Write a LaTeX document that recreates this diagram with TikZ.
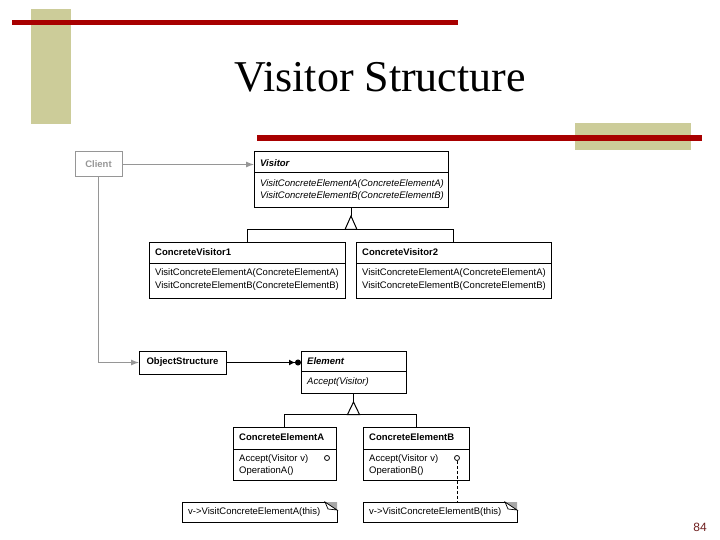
\documentclass[tikz,border=0pt]{standalone}
\usepackage{fontspec}
\setmainfont{Liberation Sans}
\newfontfamily\titlefont{Liberation Serif}
\usetikzlibrary{arrows.meta}
\definecolor{tanc}{RGB}{204,204,153}
\definecolor{barred}{RGB}{168,0,0}
\definecolor{lgray}{RGB}{150,150,150}
\definecolor{pnum}{RGB}{110,30,30}
\begin{document}
\begin{tikzpicture}[x=1pt,y=-1pt,
  cls/.style={draw, line width=1pt, inner sep=0pt, outer sep=0pt},
  hdr/.style={anchor=west, inner sep=0pt, font=\fontsize{9.5}{11}\selectfont\bfseries},
  ihdr/.style={anchor=west, inner sep=0pt, font=\fontsize{9.5}{11}\selectfont\bfseries\itshape},
  mth/.style={anchor=west, inner sep=0pt, font=\fontsize{9.5}{11}\selectfont},
  imth/.style={anchor=west, inner sep=0pt, font=\fontsize{9.5}{11}\selectfont\itshape},
  conn/.style={line width=1pt},
  gconn/.style={line width=1pt, draw=lgray},
  pin/.style={circle, draw, line width=0.8pt, inner sep=0pt, minimum size=5pt, fill=white}
]
\useasboundingbox (0,0) rectangle (720,540);

% slide decorations
\fill[tanc] (31,9) rectangle (71,124);
\fill[barred] (12,20) rectangle (458,25);
\fill[tanc] (575,123) rectangle (691,150);
\fill[barred] (257,135) rectangle (702,141);
\node[anchor=base, inner sep=0pt, font=\titlefont\fontsize{44}{50}\selectfont] (title) at (380,92) {Visitor Structure};
\node[inner sep=0pt, text=pnum, font=\fontsize{12}{14}\selectfont] (page) at (700,527) {84};

% class boxes
\node[cls, draw=lgray, minimum width=47pt, minimum height=25pt, text=lgray, font=\fontsize{9.5}{11}\selectfont\bfseries] (client) at (98.5,164.5) {Client};

\node[cls, minimum width=194pt, minimum height=56pt] (visitor) at (351,180) {};
\draw[conn] (254,173) -- (448,173);
\node[ihdr] (visitorh) at (260,163) {Visitor};
\node[imth] (visitorm1) at (260,184) {VisitConcreteElementA(ConcreteElementA)};
\node[imth] (visitorm2) at (260,196) {VisitConcreteElementB(ConcreteElementB)};

\node[cls, minimum width=196pt, minimum height=56pt] (cv1) at (247,270) {};
\draw[conn] (149,263) -- (345,263);
\node[hdr] (cv1h) at (155,252) {ConcreteVisitor1};
\node[mth] (cv1m1) at (155,273) {VisitConcreteElementA(ConcreteElementA)};
\node[mth] (cv1m2) at (155,286) {VisitConcreteElementB(ConcreteElementB)};

\node[cls, minimum width=195pt, minimum height=56pt] (cv2) at (453.5,270) {};
\draw[conn] (356,263) -- (551,263);
\node[hdr] (cv2h) at (362,252) {ConcreteVisitor2};
\node[mth] (cv2m1) at (362,273) {VisitConcreteElementA(ConcreteElementA)};
\node[mth] (cv2m2) at (362,286) {VisitConcreteElementB(ConcreteElementB)};

\node[cls, minimum width=87pt, minimum height=23pt, font=\fontsize{9.5}{11}\selectfont\bfseries] (objs) at (182.5,362.5) {ObjectStructure};

\node[cls, minimum width=105pt, minimum height=42pt] (element) at (353.5,372) {};
\draw[conn] (301,371) -- (406,371);
\node[ihdr] (elementh) at (307,361) {Element};
\node[imth] (elementm) at (307,382) {Accept(Visitor)};

\node[cls, minimum width=103pt, minimum height=53pt] (cea) at (284.5,453.5) {};
\draw[conn] (233,449) -- (336,449);
\node[hdr] (ceah) at (239,437) {ConcreteElementA};
\node[mth] (ceam1) at (239,459) {Accept(Visitor v)};
\node[mth] (ceam2) at (239,471) {OperationA()};

\node[cls, minimum width=106pt, minimum height=53pt] (ceb) at (416,453.5) {};
\draw[conn] (363,449) -- (469,449);
\node[hdr] (cebh) at (369,437) {ConcreteElementB};
\node[mth] (cebm1) at (369,459) {Accept(Visitor v)};
\node[mth] (cebm2) at (369,471) {OperationB()};

% notes
\node[inner sep=0pt, outer sep=0pt, minimum width=155pt, minimum height=20pt] (noteA) at (259.5,512) {};
\node[mth] (noteAt) at (188,512) {v->VisitConcreteElementA(this)};
\node[inner sep=0pt, outer sep=0pt, minimum width=154pt, minimum height=20pt] (noteB) at (440,512) {};
\node[mth] (noteBt) at (369,512) {v->VisitConcreteElementB(this)};
\foreach \n in {noteA,noteB}{
  \draw[conn] ([xshift=-12pt]\n.north east) -- (\n.north west) -- (\n.south west) -- (\n.south east) -- ([yshift=-8pt]\n.north east);
  \fill[gray!70] ([xshift=-12pt]\n.north east) -- (\n.north east) -- ([yshift=-8pt]\n.north east) -- cycle;
  \draw[line width=0.7pt, fill=white] ([xshift=-12pt]\n.north east) -- ([yshift=-8pt]\n.north east) -- ([xshift=-9pt,yshift=-7pt]\n.north east) -- cycle;
}

% pins
\node[pin] (pa) at (327,458) {};
\node[pin] (pb) at (457,458) {};
\draw[conn, dash pattern=on 3pt off 2pt] (pb.south) -- (pb.south |- noteB.north);

% connectors
\draw[gconn, -{Latex[length=8pt,width=6pt]}, lgray] (client.east) -- (client.east -| visitor.west);
\draw[gconn, -{Latex[length=8pt,width=6pt]}, lgray] (client.south) |- (objs.west);
\draw[conn, -{Latex[length=6pt,width=6pt] Circle[length=6pt]}] (objs.east) -- (objs.east -| element.west);

% inheritance Visitor
\coordinate (vbar) at (351,229.5);
\draw[conn] (cv1.north) |- (vbar) -| (cv2.north);
\draw[conn] (visitor.south) -- ++(0,8) coordinate (vapex);
\draw[conn, fill=white, line join=miter] (vapex) -- ++(-6,13.5) -- ++(12,0) -- cycle;

% inheritance Element
\coordinate (ebar) at (353.5,414.5);
\draw[conn] (cea.north) |- (ebar) -| (ceb.north);
\draw[conn] (element.south) -- ++(0,9) coordinate (eapex);
\draw[conn, fill=white, line join=miter] (eapex) -- ++(-6,12.5) -- ++(12,0) -- cycle;
\end{tikzpicture}
\end{document}
